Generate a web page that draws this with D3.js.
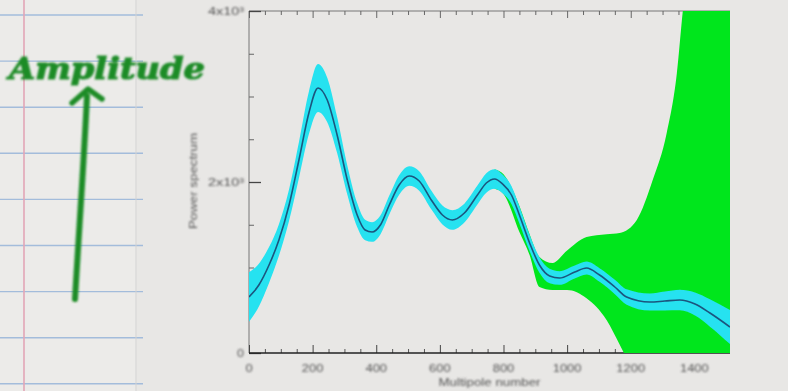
<!DOCTYPE html>
<html>
<head>
<meta charset="utf-8">
<script src="https://cdn.jsdelivr.net/npm/d3@7"></script>
<style>
  html, body { margin: 0; padding: 0; background: #e8e7e5; }
  svg { display: block; }
</style>
</head>
<body>
<svg id="chart" width="788" height="391"></svg>
<script>
// Multipole moments and the mean power spectrum
const multipole = [0, 31, 63, 94, 126, 157, 189, 217, 246, 277, 309, 340, 365, 387, 413, 441, 472, 504, 535, 573, 608, 639, 677, 718, 746, 772, 797, 825, 850, 882, 913, 945, 976, 1024, 1061, 1102, 1150, 1187, 1260, 1307, 1354, 1402, 1449, 1512];
const power = [655, 795, 1029, 1322, 1731, 2257, 2819, 3100, 2959, 2550, 2023, 1614, 1439, 1415, 1497, 1731, 1965, 2070, 2012, 1790, 1614, 1556, 1637, 1848, 1988, 2035, 1977, 1848, 1614, 1287, 1029, 901, 877, 947, 994, 912, 772, 655, 596, 608, 620, 573, 468, 304];
// Half width of the narrow (cyan) uncertainty band
const powerErr = [290, 250, 210, 185, 185, 210, 250, 280, 260, 210, 170, 140, 120, 115, 110, 110, 115, 115, 115, 110, 110, 115, 110, 110, 115, 115, 110, 105, 100, 95, 90, 85, 80, 75, 75, 80, 85, 90, 100, 110, 120, 135, 160, 200];

// Wide (green) band at high multipoles
const wideL = [772, 800, 850, 882, 913, 954, 1000, 1061, 1124, 1165, 1219, 1269, 1313, 1345, 1364, 1400, 1450, 1512];
const wideHi = [2150, 2090, 1720, 1390, 1124, 1053, 1200, 1357, 1390, 1404, 1556, 2023, 2573, 3275, 4012, 5000, 6000, 7000];
const wideLo = [1920, 1860, 1415, 1146, 772, 737, 737, 640, 386, 100, -300, -600, -800, -900, -1000, -1000, -1000, -1000];

// Axis ticks
const xMajorTicks = [0, 200, 400, 600, 800, 1000, 1200, 1400];
const yMajorTicks = [0, 2000, 4000];
const yTickLabels = ["0", "2x10\u00b3", "4x10\u00b3"];
const xTitle = "Multipole number";
const yTitle = "Power spectrum";

const svg = d3.select("#chart");
const defs = svg.append("defs");
defs.append("filter").attr("id", "soft")
  .append("feGaussianBlur").attr("stdDeviation", 0.55);
defs.append("filter").attr("id", "fuzzy")
  .append("feGaussianBlur").attr("stdDeviation", 0.8);
defs.append("filter").attr("id", "ink")
  .append("feGaussianBlur").attr("stdDeviation", 1.1);

// ---- notebook page on the left ----
const page = svg.append("g").attr("filter", "url(#soft)");
page.append("rect").attr("x", 0).attr("y", 0).attr("width", 137).attr("height", 391)
  .attr("fill", "#ecebe9");
page.selectAll("line.rule").data(d3.range(15, 391, 46.1)).join("line")
  .attr("class", "rule")
  .attr("x1", 0).attr("x2", 143).attr("y1", d => d).attr("y2", d => d)
  .attr("stroke", "#a3bcdb").attr("stroke-width", 1.4);
page.append("line").attr("x1", 24).attr("x2", 24).attr("y1", 0).attr("y2", 391)
  .attr("stroke", "#e3a6b6").attr("stroke-width", 1.6);
page.append("line").attr("x1", 136).attr("x2", 136).attr("y1", 0).attr("y2", 391)
  .attr("stroke", "#d2d2d2").attr("stroke-width", 1);

// handwritten note
const ink = svg.append("g").attr("filter", "url(#ink)");
ink.append("text")
  .attr("x", 9).attr("y", 79)
  .attr("textLength", 196).attr("lengthAdjust", "spacingAndGlyphs")
  .attr("font-family", "DejaVu Serif").attr("font-style", "italic").attr("font-weight", "bold")
  .attr("font-size", 30).attr("fill", "#1f8c28")
  .attr("stroke", "#1f8c28").attr("stroke-width", 1.2)
  .text("Amplitude");
ink.append("path")
  .attr("d", "M75,299 C79,230 84,160 87,96")
  .attr("fill", "none").attr("stroke", "#1f8c28").attr("stroke-width", 6).attr("stroke-linecap", "round");
ink.append("path")
  .attr("d", "M72,103 L88,89 L102,99")
  .attr("fill", "none").attr("stroke", "#1f8c28").attr("stroke-width", 5.5)
  .attr("stroke-linecap", "round").attr("stroke-linejoin", "round");

// ---- plot ----
const plotLeft = 249, plotRight = 730, plotTop = 11, plotBottom = 353;
const x = d3.scaleLinear().domain([0, 1512]).range([plotLeft, plotRight]);
const y = d3.scaleLinear().domain([0, 4000]).range([plotBottom, plotTop]);

const chart = svg.append("g").attr("filter", "url(#soft)");

// frame lines
chart.append("line").attr("x1", plotLeft).attr("x2", plotLeft).attr("y1", plotTop).attr("y2", plotBottom)
  .attr("stroke", "#777").attr("stroke-width", 1);
chart.append("line").attr("x1", plotLeft).attr("x2", plotRight).attr("y1", plotTop).attr("y2", plotTop)
  .attr("stroke", "#777").attr("stroke-width", 1);

// bottom axis ticks (inward)
const xMinor = d3.range(0, 1501, 50).filter(v => v % 200 !== 0);
chart.append("g").attr("transform", `translate(0,${plotBottom})`)
  .call(d3.axisTop(x).tickValues(xMinor).tickSize(4).tickSizeOuter(0).tickFormat(""))
  .call(g => g.select(".domain").remove())
  .selectAll("line").attr("stroke", "#555");
chart.append("g").attr("transform", `translate(0,${plotBottom})`)
  .call(d3.axisTop(x).tickValues(xMajorTicks).tickSize(8).tickSizeOuter(0).tickFormat(""))
  .call(g => g.select(".domain").remove())
  .selectAll("line").attr("stroke", "#444");
// top axis ticks (inward)
chart.append("g").attr("transform", `translate(0,${plotTop})`)
  .call(d3.axisBottom(x).tickValues(xMinor).tickSize(4).tickSizeOuter(0).tickFormat(""))
  .call(g => g.select(".domain").remove())
  .selectAll("line").attr("stroke", "#666");
chart.append("g").attr("transform", `translate(0,${plotTop})`)
  .call(d3.axisBottom(x).tickValues(xMajorTicks).tickSize(7).tickSizeOuter(0).tickFormat(""))
  .call(g => g.select(".domain").remove())
  .selectAll("line").attr("stroke", "#666");
// left axis ticks (inward)
const yMinor = d3.range(0, 4001, 500).filter(v => v % 2000 !== 0);
chart.append("g").attr("transform", `translate(${plotLeft},0)`)
  .call(d3.axisRight(y).tickValues(yMinor).tickSize(5).tickSizeOuter(0).tickFormat(""))
  .call(g => g.select(".domain").remove())
  .selectAll("line").attr("stroke", "#666");
chart.append("g").attr("transform", `translate(${plotLeft},0)`)
  .call(d3.axisRight(y).tickValues(yMajorTicks).tickSize(12).tickSizeOuter(0).tickFormat(""))
  .call(g => g.select(".domain").remove())
  .selectAll("line").attr("stroke", "#444").attr("stroke-width", 1.3);

// bottom axis line (dark)
chart.append("line").attr("x1", plotLeft).attr("x2", plotRight).attr("y1", plotBottom).attr("y2", plotBottom)
  .attr("stroke", "#222").attr("stroke-width", 1.6);

// labels, a little fuzzier than the lines
const labels = svg.append("g").attr("filter", "url(#fuzzy)")
  .attr("font-family", "Liberation Sans, Arial, sans-serif").attr("fill", "#555");

labels.selectAll("text.xl").data(xMajorTicks).join("text")
  .attr("class", "xl")
  .attr("x", d => x(d)).attr("y", 372)
  .attr("text-anchor", "middle")
  .attr("font-size", 11)
  .attr("textLength", d => String(d).length * 7.2).attr("lengthAdjust", "spacingAndGlyphs")
  .text(d => d);
labels.selectAll("text.yl").data(yMajorTicks).join("text")
  .attr("class", "yl")
  .attr("x", plotLeft - 5).attr("y", d => y(d) + 4)
  .attr("text-anchor", "end")
  .attr("font-size", 11)
  .attr("textLength", (d, i) => yTickLabels[i].length > 1 ? 36 : 7).attr("lengthAdjust", "spacingAndGlyphs")
  .text((d, i) => yTickLabels[i]);

// axis titles
labels.append("text")
  .attr("x", (plotLeft + plotRight) / 2).attr("y", 386)
  .attr("text-anchor", "middle")
  .attr("font-size", 10.5)
  .attr("textLength", 102).attr("lengthAdjust", "spacingAndGlyphs")
  .text(xTitle);
labels.append("text")
  .attr("transform", "translate(197,181) rotate(-90)")
  .attr("text-anchor", "middle")
  .attr("font-size", 10.5)
  .attr("textLength", 96).attr("lengthAdjust", "spacingAndGlyphs")
  .text(yTitle);

// data, clipped to the plot box
defs.append("clipPath").attr("id", "plotclip")
  .append("rect").attr("x", plotLeft).attr("y", plotTop)
  .attr("width", plotRight - plotLeft).attr("height", plotBottom - plotTop);
const plot = chart.append("g").attr("clip-path", "url(#plotclip)");

const wide = wideL.map((l, i) => ({ l, lo: wideLo[i], hi: wideHi[i] }));
const main = multipole.map((l, i) => ({ l, v: power[i], e: powerErr[i] }));

plot.append("path").datum(wide)
  .attr("fill", "#00e61c")
  .attr("d", d3.area().curve(d3.curveMonotoneX)
    .x(d => x(d.l)).y0(d => y(d.lo)).y1(d => y(d.hi)));

plot.append("path").datum(main)
  .attr("fill", "#26e2f0")
  .attr("d", d3.area().curve(d3.curveMonotoneX)
    .x(d => x(d.l)).y0(d => y(d.v - d.e)).y1(d => y(d.v + d.e)));

plot.append("path").datum(main)
  .attr("fill", "none").attr("stroke", "#1b557e").attr("stroke-width", 1.6)
  .attr("d", d3.line().curve(d3.curveMonotoneX)
    .x(d => x(d.l)).y(d => y(d.v)));
</script>
</body>
</html>
